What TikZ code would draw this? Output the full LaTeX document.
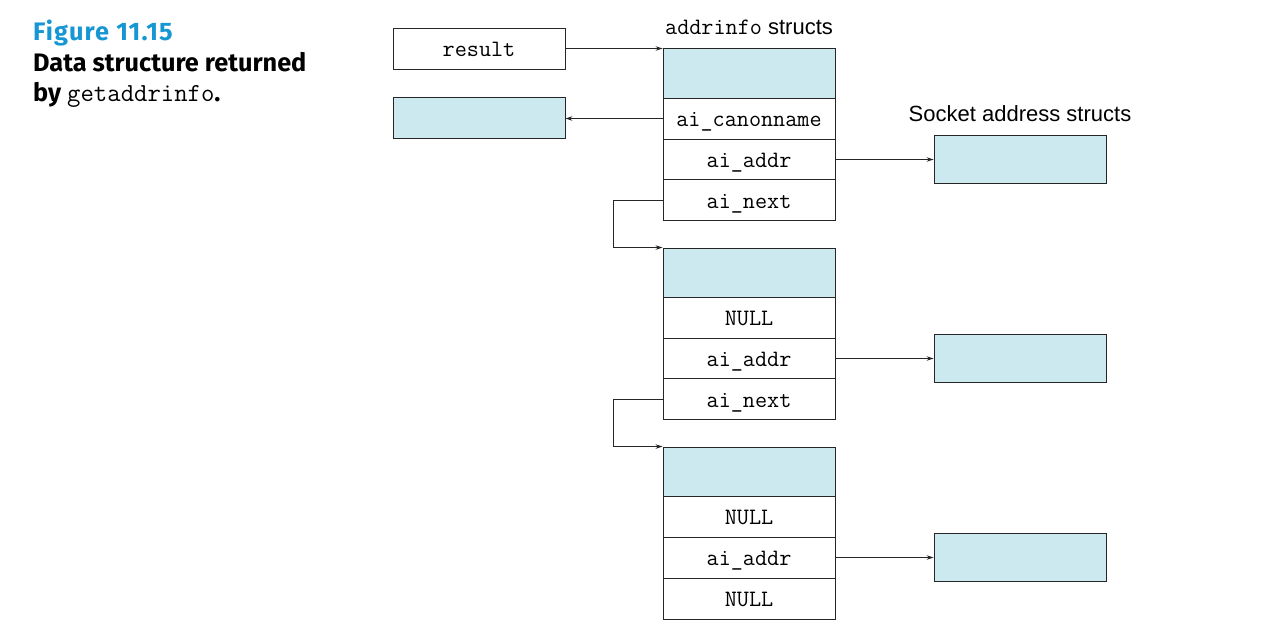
\documentclass[tikz,border=0pt]{standalone}
\usepackage{fontspec}
\setmainfont{Liberation Sans}
\newfontfamily\capfont{Fira Sans}
\usetikzlibrary{arrows.meta}
\definecolor{cellblue}{RGB}{204,233,240}
\definecolor{figblue}{RGB}{22,150,210}
\begin{document}
\begin{tikzpicture}[x=1pt,y=-1pt,
  cell/.style={draw=black!85,line width=0.9pt,minimum width=172pt,minimum height=41pt,inner sep=0pt,
    text height=16.4pt,text depth=0pt,
    font=\fontsize{23.5}{26}\selectfont\ttfamily,fill=white},
  cyancell/.style={cell,fill=cellblue},
  lbl/.style={inner sep=0pt,font=\fontsize{22}{24}\selectfont},
  captxt/.style={inner sep=0pt,anchor=base west,font=\capfont\bfseries\fontsize{25.3}{30}\selectfont},
  arr/.style={draw=black!85,line width=0.9pt,-{Stealth[length=7pt,width=4.5pt]}}]
\useasboundingbox (0,0) rectangle (1279,635);
% caption
\node[captxt,text=figblue] (c1) at (33,40) {\addfontfeature{LetterSpace=4.5}Figure 11.15};
\node[captxt] (c2) at (33,71) {Data structure returned};
\node[captxt] (c3) at (33,101.5) {by {\mdseries\ttfamily\fontsize{26}{30}\selectfont getaddrinfo}.};
% left boxes
\node[cell] (result) at (479,48.5) {result};
\node[cyancell] (canon) at (479,117.5) {};
% labels
\node[lbl] (lab1) at (749,27) {{\fontsize{23.5}{26}\selectfont\ttfamily addrinfo} structs};
\node[lbl] (lab2) at (1020,114) {Socket address structs};
% struct 1
\node[cyancell,minimum height=50pt] (s1top) at (749,73) {};
\node[cell] (s1canon) at (749,118.5) {ai\_canonname};
\node[cell] (s1addr) at (749,159.5) {ai\_addr};
\node[cell] (s1next) at (749,200) {ai\_next};
% struct 2
\node[cyancell,minimum height=49pt] (s2top) at (749,272.5) {};
\node[cell] (s2null) at (749,317.5) {NULL};
\node[cell] (s2addr) at (749,358.5) {ai\_addr};
\node[cell] (s2next) at (749,399) {ai\_next};
% struct 3
\node[cyancell,minimum height=49pt] (s3top) at (749,471.5) {};
\node[cell] (s3null) at (749,516.5) {NULL};
\node[cell] (s3addr) at (749,557.5) {ai\_addr};
\node[cell] (s3null2) at (749,598.5) {NULL};
% socket address structs
\node[cyancell,minimum height=48pt] (sock1) at (1020,159) {};
\node[cyancell,minimum height=48pt] (sock2) at (1020,358) {};
\node[cyancell,minimum height=48pt] (sock3) at (1020,557) {};
% connectors
\draw[arr] (result.east) -- (result.east -| s1top.west);
\draw[arr] (s1canon.west) -- (s1canon.west -| canon.east);
\draw[arr] (s1addr.east) -- (s1addr.east -| sock1.west);
\draw[arr] (s2addr.east) -- (s2addr.east -| sock2.west);
\draw[arr] (s3addr.east) -- (s3addr.east -| sock3.west);
\draw[arr] (s1next.west) -- ([xshift=-49pt]s1next.west) |- (s2top.north west);
\draw[arr] (s2next.west) -- ([xshift=-49pt]s2next.west) |- (s3top.north west);
\end{tikzpicture}
\end{document}
